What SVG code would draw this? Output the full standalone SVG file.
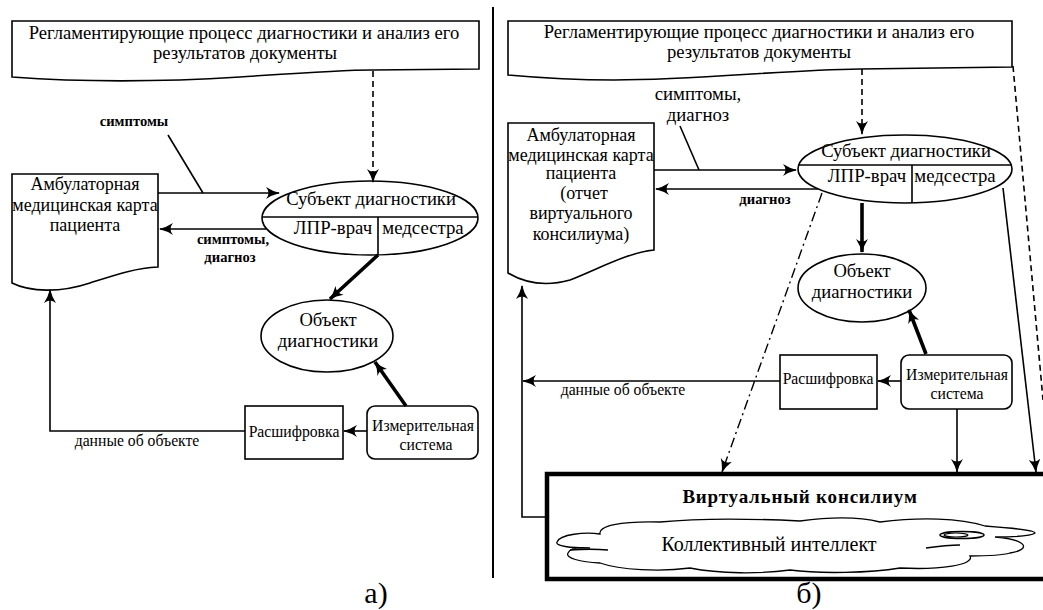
<svg xmlns="http://www.w3.org/2000/svg" width="1043" height="610" viewBox="0 0 1043 610">
  <defs>
    <!-- shared arrowhead for every connector -->
    <marker id="ah" markerUnits="userSpaceOnUse" markerWidth="14" markerHeight="12" refX="13" refY="6" orient="auto" viewBox="0 0 14 12">
      <path d="M0,0 Q6,4 14,6 Q6,8 0,12 Q5,6 0,0 Z" fill="#000"/>
    </marker>
  </defs>
  <rect width="1043" height="610" fill="#fff"/>

  <!-- panel divider -->
  <line x1="493" y1="7" x2="493" y2="578" stroke="#000" stroke-width="2"/>

  <!-- ===== panel a ===== -->
  <g id="a-regulations">
    <path fill="#fff" stroke="#000" stroke-width="1.6" d="M12,77 C80,82 160,82 240,77 C300,73 340,70 372,70 L479,69 V21 H12 Z"/>
    <text font-family="'Liberation Serif', serif" font-size="18.6" text-anchor="middle" x="244" y="39">Регламентирующие процесс диагностики и анализ его</text>
    <text font-family="'Liberation Serif', serif" font-size="18.6" text-anchor="middle" x="245" y="59">результатов документы</text>
  </g>
  <g id="a-card">
    <path fill="#fff" stroke="#000" stroke-width="1.6" d="M12,174 H158 V267 C135,268 115,275 90,283 C60,293 30,292 12,283 Z"/>
    <text font-family="'Liberation Serif', serif" font-size="18" text-anchor="middle" x="85" y="190">Амбулаторная</text>
    <text font-family="'Liberation Serif', serif" font-size="18" text-anchor="middle" x="85" y="211">медицинская карта</text>
    <text font-family="'Liberation Serif', serif" font-size="18" text-anchor="middle" x="85" y="231">пациента</text>
  </g>
  <g id="a-subject">
    <ellipse fill="#fff" stroke="#000" stroke-width="1.6" cx="370" cy="218" rx="108" ry="37"/>
    <line stroke="#000" stroke-width="1.6" x1="262" y1="217" x2="478" y2="217"/>
    <line stroke="#000" stroke-width="1.6" x1="378" y1="217" x2="378" y2="255"/>
    <text font-family="'Liberation Serif', serif" font-size="18.6" text-anchor="middle" x="371" y="205">Субъект диагностики</text>
    <text font-family="'Liberation Serif', serif" font-size="18.8" text-anchor="middle" x="333" y="234">ЛПР-врач</text>
    <text font-family="'Liberation Serif', serif" font-size="18.8" text-anchor="middle" x="423" y="234">медсестра</text>
  </g>
  <g id="a-object">
    <ellipse fill="#fff" stroke="#000" stroke-width="1.6" cx="327" cy="336" rx="66" ry="36"/>
    <text font-family="'Liberation Serif', serif" font-size="18.6" text-anchor="middle" x="328" y="326">Объект</text>
    <text font-family="'Liberation Serif', serif" font-size="18.6" text-anchor="middle" x="328" y="347">диагностики</text>
  </g>
  <g id="a-decoding">
    <rect fill="#fff" stroke="#000" stroke-width="1.6" x="245" y="406" width="98" height="53"/>
    <text font-family="'Liberation Serif', serif" font-size="15.7" text-anchor="middle" x="294" y="437">Расшифровка</text>
  </g>
  <g id="a-measuring">
    <rect fill="#fff" stroke="#000" stroke-width="1.6" x="367" y="406" width="111" height="53" rx="8"/>
    <text font-family="'Liberation Serif', serif" font-size="15.7" text-anchor="middle" x="423" y="431">Измерительная</text>
    <text font-family="'Liberation Serif', serif" font-size="15.7" text-anchor="middle" x="426" y="450">система</text>
  </g>
  <g id="a-labels">
    <text font-family="'Liberation Serif', serif" font-size="14.6" font-weight="bold" text-anchor="middle" x="134" y="126">симптомы</text>
    <text font-family="'Liberation Serif', serif" font-size="14.6" font-weight="bold" text-anchor="middle" x="233" y="244">симптомы,</text>
    <text font-family="'Liberation Serif', serif" font-size="14.6" font-weight="bold" text-anchor="middle" x="230" y="262">диагноз</text>
    <text font-family="'Liberation Serif', serif" font-size="15.7" text-anchor="middle" x="137" y="446">данные об объекте</text>
    <text font-family="'Liberation Serif', serif" font-size="30" text-anchor="middle" x="376" y="603">а)</text>
  </g>
  <g id="a-connectors" fill="none" stroke="#000" stroke-width="1.6">
    <line stroke-dasharray="6 4" marker-end="url(#ah)" x1="373" y1="71" x2="373" y2="182"/>
    <line x1="168" y1="135" x2="203" y2="193"/>
    <line marker-end="url(#ah)" x1="158" y1="193" x2="279" y2="193"/>
    <line marker-end="url(#ah)" x1="266" y1="229" x2="160" y2="229"/>
    <line stroke-width="3.6" marker-end="url(#ah)" x1="378" y1="255" x2="330" y2="299"/>
    <line stroke-width="3.6" marker-end="url(#ah)" x1="406" y1="406" x2="375" y2="362"/>
    <line marker-end="url(#ah)" x1="367" y1="431" x2="344" y2="431"/>
    <polyline marker-end="url(#ah)" points="245,431 50,431 50,290"/>
  </g>

  <!-- ===== panel b ===== -->
  <g id="b-regulations">
    <path fill="#fff" stroke="#000" stroke-width="1.6" d="M508,21 H1012 V67 L860,69 C780,70 700,80 614,80 C570,80 530,77 508,75 Z"/>
    <text font-family="'Liberation Serif', serif" font-size="18.6" text-anchor="middle" x="759" y="38">Регламентирующие процесс диагностики и анализ его</text>
    <text font-family="'Liberation Serif', serif" font-size="18.6" text-anchor="middle" x="759" y="58">результатов документы</text>
  </g>
  <g id="b-card">
    <path fill="#fff" stroke="#000" stroke-width="1.6" d="M508,123 H654 V250 C630,252 600,268 570,280 C545,287 525,283 508,273 Z"/>
    <text font-family="'Liberation Serif', serif" font-size="18" text-anchor="middle" x="581" y="141">Амбулаторная</text>
    <text font-family="'Liberation Serif', serif" font-size="18" text-anchor="middle" x="581" y="161">медицинская карта</text>
    <text font-family="'Liberation Serif', serif" font-size="18" text-anchor="middle" x="581" y="179">пациента</text>
    <text font-family="'Liberation Serif', serif" font-size="18" text-anchor="middle" x="584" y="199">(отчет</text>
    <text font-family="'Liberation Serif', serif" font-size="18" text-anchor="middle" x="581" y="219">виртуального</text>
    <text font-family="'Liberation Serif', serif" font-size="18" text-anchor="middle" x="581" y="240">консилиума)</text>
  </g>
  <g id="b-subject">
    <ellipse fill="#fff" stroke="#000" stroke-width="1.6" cx="905" cy="169" rx="107" ry="34"/>
    <line stroke="#000" stroke-width="1.6" x1="798" y1="165" x2="1012" y2="165"/>
    <line stroke="#000" stroke-width="1.6" x1="912" y1="165" x2="912" y2="203"/>
    <text font-family="'Liberation Serif', serif" font-size="18.6" text-anchor="middle" x="906" y="157">Субъект диагностики</text>
    <text font-family="'Liberation Serif', serif" font-size="18.8" text-anchor="middle" x="867" y="182">ЛПР-врач</text>
    <text font-family="'Liberation Serif', serif" font-size="18.8" text-anchor="middle" x="955" y="182">медсестра</text>
  </g>
  <g id="b-object">
    <ellipse fill="#fff" stroke="#000" stroke-width="1.6" cx="862" cy="288" rx="64" ry="34"/>
    <text font-family="'Liberation Serif', serif" font-size="18.6" text-anchor="middle" x="862" y="277">Объект</text>
    <text font-family="'Liberation Serif', serif" font-size="18.6" text-anchor="middle" x="862" y="298">диагностики</text>
  </g>
  <g id="b-decoding">
    <rect fill="#fff" stroke="#000" stroke-width="1.6" x="780" y="355" width="97" height="54"/>
    <text font-family="'Liberation Serif', serif" font-size="15.7" text-anchor="middle" x="828" y="384">Расшифровка</text>
  </g>
  <g id="b-measuring">
    <rect fill="#fff" stroke="#000" stroke-width="1.6" x="901" y="355" width="111" height="54" rx="8"/>
    <text font-family="'Liberation Serif', serif" font-size="15.7" text-anchor="middle" x="957" y="380">Измерительная</text>
    <text font-family="'Liberation Serif', serif" font-size="15.7" text-anchor="middle" x="957" y="399">система</text>
  </g>
  <g id="b-council">
    <rect x="547" y="474" width="500" height="105" fill="#fff" stroke="#000" stroke-width="4.5"/>
    <text font-family="'Liberation Serif', serif" font-size="19" font-weight="bold" letter-spacing="0.8" text-anchor="middle" x="800" y="503">Виртуальный консилиум</text>
    <!-- cloud -->
    <path fill="#fff" stroke="#000" stroke-width="1.3" d="M557,542 C560,534 585,532 600,534 C598,526 620,521 660,522 C700,518 740,518 800,521 C830,517 860,517 880,522 C920,517 960,518 985,526 C1010,528 1035,530 1035,533 C1030,537 1010,537 995,537 C1030,540 1030,550 1010,553 C1000,556 985,556 970,556 C975,565 940,570 900,568 C870,573 820,574 790,570 C760,574 720,574 690,568 C660,572 620,570 600,563 C580,562 565,558 568,553 C570,548 580,547 590,548 C570,548 555,546 557,542 Z"/>
    <path fill="none" stroke="#000" stroke-width="1.3" d="M570,550 C585,549 597,549 608,550"/>
    <path fill="none" stroke="#000" stroke-width="1.3" d="M926,548 C940,546 950,545 960,545"/>
    <ellipse cx="962" cy="535" rx="22" ry="3.5" fill="none" stroke="#000" stroke-width="1.5"/>
    <ellipse cx="956" cy="535" rx="12" ry="2" fill="none" stroke="#000" stroke-width="1.2"/>
    <text font-family="'Liberation Serif', serif" font-size="20" text-anchor="middle" x="769" y="551">Коллективный интеллект</text>
  </g>
  <g id="b-labels">
    <text font-family="'Liberation Serif', serif" font-size="18.8" text-anchor="middle" x="698" y="100">симптомы,</text>
    <text font-family="'Liberation Serif', serif" font-size="18.8" text-anchor="middle" x="698" y="121">диагноз</text>
    <text font-family="'Liberation Serif', serif" font-size="14.6" font-weight="bold" text-anchor="middle" x="765" y="204">диагноз</text>
    <text font-family="'Liberation Serif', serif" font-size="15.7" text-anchor="middle" x="623" y="395">данные об объекте</text>
    <text font-family="'Liberation Serif', serif" font-size="30" text-anchor="middle" x="809" y="603">б)</text>
  </g>
  <g id="b-connectors" fill="none" stroke="#000" stroke-width="1.6">
    <line stroke-dasharray="6 4" marker-end="url(#ah)" x1="862" y1="69" x2="862" y2="134"/>
    <line stroke-dasharray="6 4" x1="1013" y1="66" x2="1043" y2="400"/>
    <line x1="680" y1="126" x2="699" y2="170"/>
    <line marker-end="url(#ah)" x1="654" y1="170" x2="796" y2="170"/>
    <line marker-end="url(#ah)" x1="818" y1="189" x2="656" y2="189"/>
    <line stroke-width="3.6" marker-end="url(#ah)" x1="862" y1="203" x2="862" y2="252"/>
    <line stroke-width="3.6" marker-end="url(#ah)" x1="926" y1="354" x2="909" y2="310"/>
    <line marker-end="url(#ah)" x1="901" y1="381" x2="878" y2="381"/>
    <line marker-end="url(#ah)" x1="780" y1="381" x2="523" y2="381"/>
    <polyline marker-end="url(#ah)" points="547,517 522,517 522,286"/>
    <line stroke-width="1.4" stroke-dasharray="10 4 2 4" marker-end="url(#ah)" x1="822" y1="193" x2="722" y2="472"/>
    <line marker-end="url(#ah)" x1="957" y1="409" x2="957" y2="472"/>
    <line marker-end="url(#ah)" x1="1003" y1="188" x2="1036" y2="472"/>
  </g>
</svg>
